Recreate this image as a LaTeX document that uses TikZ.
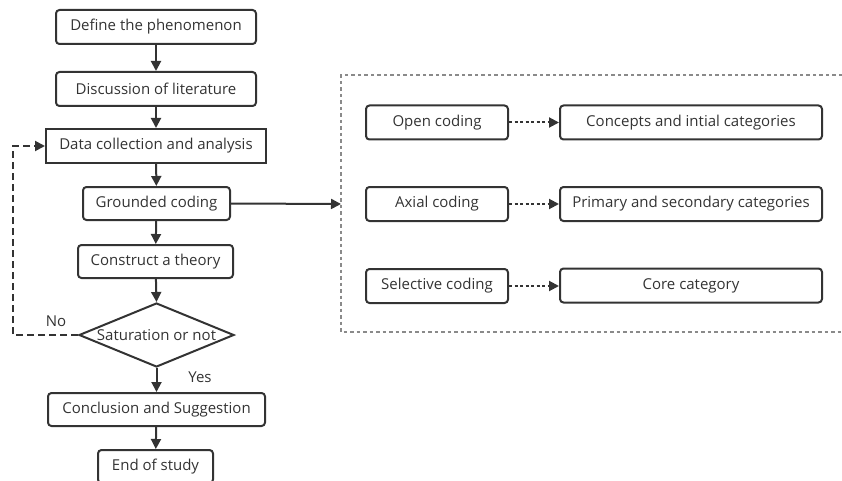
\documentclass[tikz,border=0pt]{standalone}
\usepackage{fontspec}
\setmainfont{Open Sans}
\usetikzlibrary{shapes.geometric,arrows.meta}
\definecolor{ink}{HTML}{333333}
\definecolor{frame}{HTML}{8A8A8A}
\begin{document}
\begin{tikzpicture}[x=1pt,y=-1pt,
  every node/.style={font=\fontsize{15}{17}\selectfont, text=ink},
  rbox/.style={draw=ink, line width=2pt, rounded corners=3.5pt, inner sep=0pt},
  sbox/.style={draw=ink, line width=2pt, inner sep=0pt},
  dia/.style={draw=ink, line width=2pt, diamond, aspect=2.42, inner sep=0pt, minimum width=155pt, minimum height=64pt},
  flow/.style={draw=ink, line width=2pt, -{Triangle[length=10pt,width=10pt]}},
  loopline/.style={draw=ink, line width=2pt, dash pattern=on 7pt off 4pt, -{Triangle[length=10pt,width=10pt]}},
  dotarrow/.style={draw=ink, line width=2pt, dash pattern=on 3pt off 2.5pt, -{Triangle[length=10pt,width=10pt]}},
  lbl/.style={font=\fontsize{15}{17}\selectfont}
]
\useasboundingbox (0,0) rectangle (842,481);
% left flow
\node[rbox, minimum width=200pt, minimum height=34pt] (b1) at (156,27) {Define the phenomenon};
\node[rbox, minimum width=200pt, minimum height=34pt] (b2) at (156,89) {Discussion of literature};
\node[sbox, minimum width=220pt, minimum height=34pt] (b3) at (156,146) {Data collection and analysis};
\node[rbox, minimum width=147pt, minimum height=33pt] (b4) at (156.5,203.5) {Grounded coding};
\node[rbox, minimum width=155pt, minimum height=33pt] (b5) at (155.5,261.5) {Construct a theory};
\node[dia] (d) at (156.5,335) {Saturation or not};
\node[rbox, minimum width=217pt, minimum height=33pt] (b6) at (156.5,409.5) {Conclusion and Suggestion};
\node[rbox, minimum width=115pt, minimum height=33pt] (b7) at (155.5,466.5) {End of study};
\node[lbl] (yes) at (200,377) {Yes};
\node[lbl] (no) at (56,321) {No};
\draw[flow] (b1) -- (b2);
\draw[flow] (b2) -- (b3);
\draw[flow] (b3) -- (b4);
\draw[flow] (b4) -- (b5);
\draw[flow] (b5) -- (d.north);
\draw[flow] (d.south) -- (b6);
\draw[flow] (b6) -- (b7);
\coordinate (l1) at (13,335);
\coordinate (l2) at (13,146);
\draw[loopline] (d.west) -- (l1) -- (l2) -- (b3.west);
% dotted frame
\coordinate (f1) at (842,75);
\coordinate (f2) at (341,75);
\coordinate (f3) at (341,332);
\coordinate (f4) at (842,332);
\draw[frame, line width=1.2pt, dash pattern=on 3.5pt off 3pt] (f1) -- (f2) -- (f3) -- (f4);
\coordinate (fin) at (341,204);
\draw[flow] (b4.east) -- (fin);
% right boxes
\node[rbox, minimum width=142pt, minimum height=34pt] (o) at (437,122.5) {Open coding};
\node[rbox, minimum width=262pt, minimum height=34pt] (oc) at (691,122.5) {Concepts and intial categories};
\node[rbox, minimum width=142pt, minimum height=34pt] (a) at (437,204) {Axial coding};
\node[rbox, minimum width=262pt, minimum height=34pt] (ac) at (691,204) {Primary and secondary categories};
\node[rbox, minimum width=142pt, minimum height=34pt] (s) at (437,286) {Selective coding};
\node[rbox, minimum width=262pt, minimum height=34pt] (sc) at (691,285.5) {Core category};
\draw[dotarrow] (o) -- (oc);
\draw[dotarrow] (a) -- (ac);
\draw[dotarrow] (s.east) -- (s.east -| sc.west);
\end{tikzpicture}
\end{document}
